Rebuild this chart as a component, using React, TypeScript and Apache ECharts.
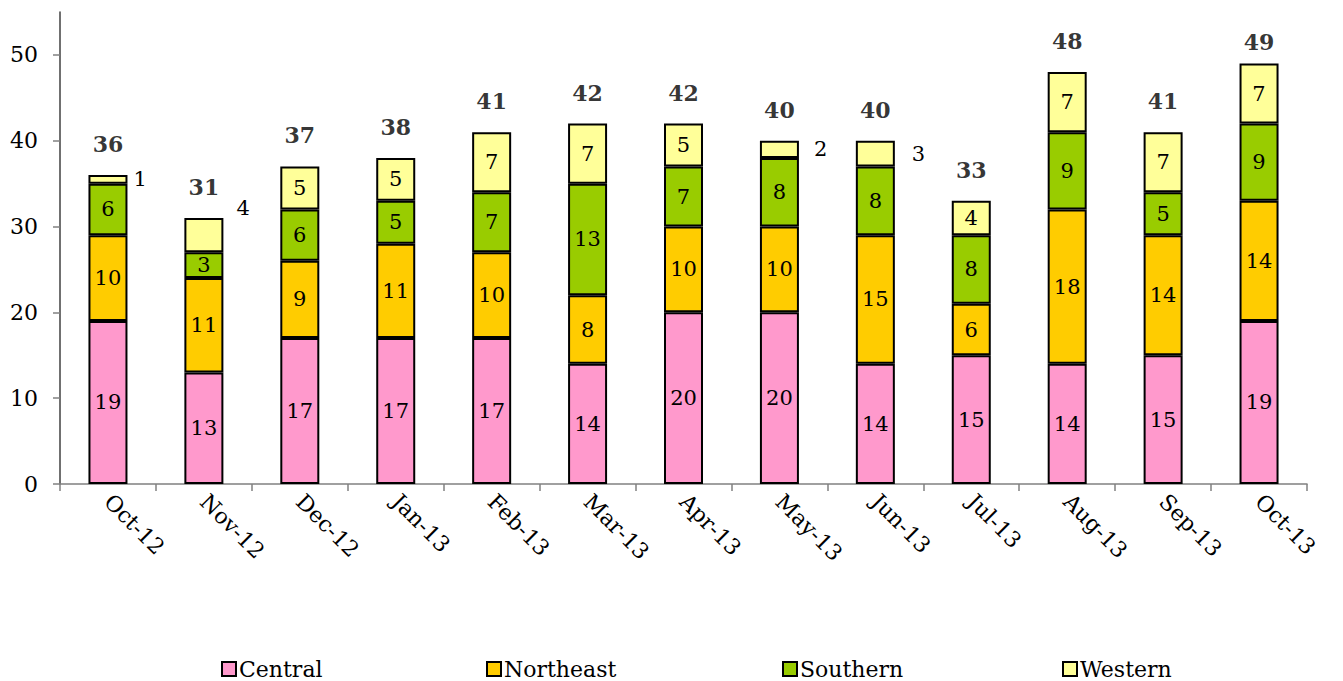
import React, { useEffect, useRef } from "react";
import * as echarts from "echarts";

const categories = ["Oct-12", "Nov-12", "Dec-12", "Jan-13", "Feb-13", "Mar-13", "Apr-13", "May-13", "Jun-13", "Jul-13", "Aug-13", "Sep-13", "Oct-13"];
const central = [19, 13, 17, 17, 17, 14, 20, 20, 14, 15, 14, 15, 19];
const northeast = [10, 11, 9, 11, 10, 8, 10, 10, 15, 6, 18, 14, 14];
const southern = [6, 3, 6, 5, 7, 13, 7, 8, 8, 8, 9, 5, 9];
const western = [1, 4, 5, 5, 7, 7, 5, 2, 3, 4, 7, 7, 7];
const totals = [36, 31, 37, 38, 41, 42, 42, 40, 40, 33, 48, 41, 49];
const yTicks = [0, 10, 20, 30, 40, 50];
const seriesNames = ["Central", "Northeast", "Southern", "Western"];

const FONT = "DejaVu Serif";

// label placement tweaks for small Western segments (index -> style)
const westernOutside: Record<number, { distance: number; offset?: [number, number] }> = {
  0: { distance: 6 },
  1: { distance: 13, offset: [0, -27] },
  7: { distance: 15 },
  8: { distance: 17 },
};
const legendLefts = [216, 481, 777, 1057];

export default function App() {
  const ref = useRef<HTMLDivElement>(null);
  useEffect(() => {
    if (!ref.current) return;
    const chart = echarts.init(ref.current, null, { renderer: "svg" });
    const barBase = (name: string, color: string, data: any[]) => ({
      name,
      type: "bar",
      stack: "total",
      barWidth: 39,
      itemStyle: { color, borderColor: "#000", borderWidth: 2 },
      label: {
        show: true,
        position: "inside",
        color: "#000",
        fontFamily: FONT,
        fontSize: 21,
      },
      data,
    });
    const westernData = western.map((v, i) => {
      const o = westernOutside[i];
      if (!o) return v;
      return {
        value: v,
        label: { position: "right", distance: o.distance, offset: o.offset || [0, 0] },
      };
    });
    chart.setOption({
      animation: false,
      backgroundColor: "#fff",
      textStyle: { fontFamily: FONT },
      grid: { left: 60, right: 36, top: 12, bottom: 197, containLabel: false },
      legend: seriesNames.map((n, i) => ({
        data: [n],
        left: legendLefts[i],
        top: 653,
        itemWidth: 14,
        itemHeight: 14,
        itemGap: 4,
        icon: "rect",
        textStyle: { fontFamily: FONT, fontSize: 22, color: "#000", padding: [0, 0, 0, -2] },
      })),
      xAxis: {
        type: "category",
        data: categories,
        axisLine: { show: true, lineStyle: { color: "#808080", width: 1.5 } },
        axisTick: { show: true, length: 7, lineStyle: { color: "#808080", width: 1.5 } },
        axisLabel: {
          interval: 0,
          rotate: -45,
          margin: 14,
          color: "#000",
          fontFamily: FONT,
          fontSize: 22,
        },
      },
      yAxis: {
        type: "value",
        min: 0,
        max: 55,
        interval: 10,
        splitLine: { show: false },
        axisLine: { show: true, lineStyle: { color: "#404040", width: 1.5 } },
        axisTick: { show: true, length: 7, customValues: yTicks, lineStyle: { color: "#808080", width: 1.5 } },
        axisLabel: {
          customValues: yTicks,
          margin: 22,
          color: "#000",
          fontFamily: FONT,
          fontSize: 22,
        },
      },
      series: [
        barBase(seriesNames[0], "#FF99CC", central),
        barBase(seriesNames[1], "#FFCC00", northeast),
        barBase(seriesNames[2], "#99CC00", southern),
        barBase(seriesNames[3], "#FFFF99", westernData),
        {
          name: "Total",
          type: "scatter",
          symbolSize: 0,
          itemStyle: { color: "#000" },
          label: {
            show: true,
            position: "top",
            distance: 20,
            color: "#000",
            fontFamily: FONT,
            fontSize: 22,
            fontWeight: "bold",
          },
          data: totals.map((t, i) =>
            i === totals.length - 1 ? { value: t, label: { offset: [0, 10] } } : t
          ),
        },
      ],
    });
    return () => chart.dispose();
  }, []);
  return (
    <div
      ref={ref}
      style={{ position: "fixed", left: 0, top: 0, width: 1343, height: 681 }}
    />
  );
}
